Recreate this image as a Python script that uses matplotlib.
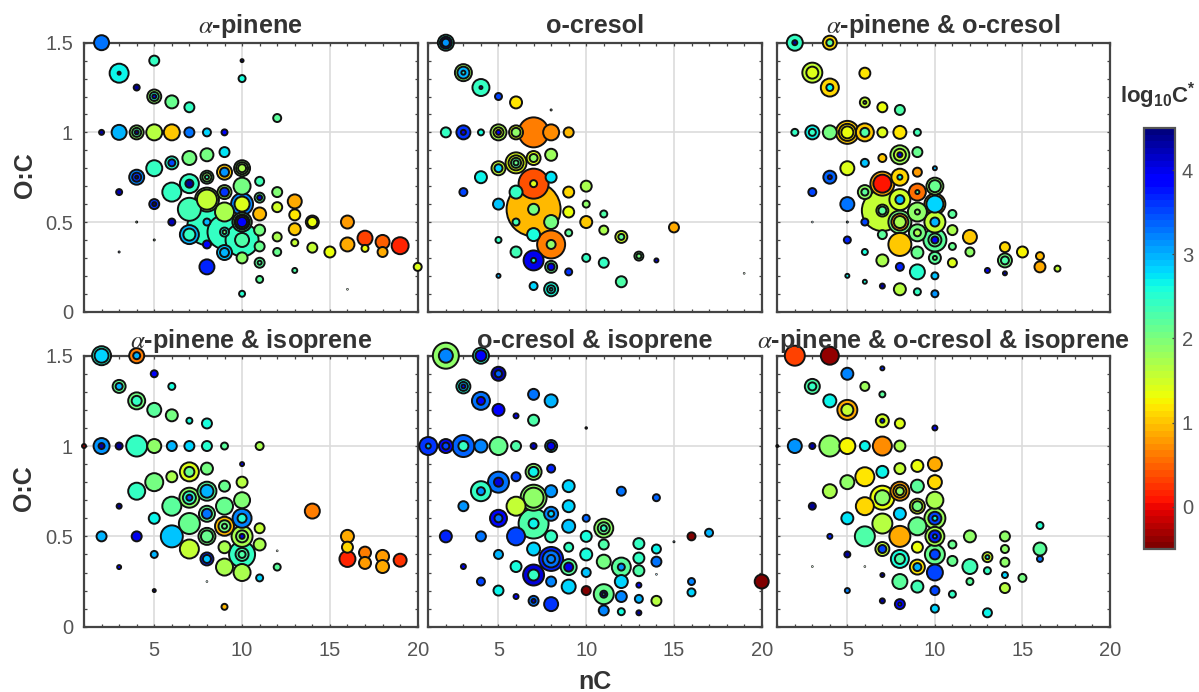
import numpy as np
import matplotlib
matplotlib.use("Agg")
import matplotlib.pyplot as plt
from matplotlib.cm import ScalarMappable
from matplotlib.colors import Normalize
from matplotlib.ticker import MultipleLocator

plt.rcParams['font.family'] = ['Liberation Sans', 'DejaVu Sans']
plt.rcParams['mathtext.fontset'] = 'custom'
plt.rcParams['mathtext.bf'] = 'Liberation Sans:bold'
plt.rcParams['mathtext.rm'] = 'Liberation Sans'

# a-pinene
ap_nc = [2, 3, 3, 4, 5, 5, 5, 5, 6, 7, 10, 10, 12, 2, 3, 4, 4, 4, 5, 6, 7, 8, 9,
         4, 4, 4, 5, 6, 6, 7, 8, 9, 3, 5, 5, 6, 7, 7, 6, 7, 8, 8, 8, 8, 8, 9, 9, 9, 9,
         10, 10, 10, 10, 10, 10, 10, 10, 9, 8, 7, 7, 8, 9, 9, 9, 10, 10, 10, 10, 10,
         8, 9, 9, 10, 8, 11, 11, 11, 11, 11, 11, 11, 11, 11, 10, 12, 12, 12, 12, 13, 13,
         13, 13, 13, 14, 14, 14, 15, 16, 16, 16, 17, 17, 18, 18, 19, 20, 3, 4, 5]
ap_oc = [1.5, 1.33, 1.33, 1.25, 1.4, 1.2, 1.2, 1.2, 1.17, 1.14, 1.4, 1.3, 1.08, 1, 1, 1, 1, 1, 1, 1, 1, 1, 1,
         .75, .75, .75, .8, .83, .83, .857, .875, .89, .667, .6, .6, .5, .714, .714, .667, .571, .625, .625, .75, .75, .75, .778, .778, .667, .667,
         .8, .8, .8, .7, .6, .6, .5, .5, .556, .5, .43, .43, .48, .444, .444, .444, .4, .4, .5, .5, .5,
         .375, .33, .33, .3, .25, .727, .636, .636, .545, .455, .364, .273, .273, .18, .1, .667, .583, .417, .333, .615, .54,
         .46, .385, .23, .5, .5, .357, .333, .5, .375, .125, .41, .353, .389, .333, .368, .25, .333, .5, .4]
ap_sz = [16, 20, 4, 7, 11, 15, 10, 5, 14, 11, 4, 8, 9, 6, 16, 15, 10, 5, 17, 17, 11, 9, 7,
         16, 10, 4, 17, 14, 8, 15, 14, 11, 7, 11, 5, 8, 20, 9, 20, 24, 25, 21, 14, 10, 5, 16, 10, 15, 10,
         17, 13, 9, 18, 23, 16, 20, 14, 20, 8, 20, 13, 40, 35, 10, 5, 34, 15, 20, 16, 11,
         9, 16, 10, 12, 16, 10, 11, 6, 14, 12, 11, 11, 5, 8, 7, 11, 11, 10, 9, 15, 12,
         13, 8, 6, 14, 11, 11, 12, 14, 15, 1.5, 16, 8, 15, 11, 18, 9, 2, 2, 2]
ap_lc = [3.3, 2.7, 4.4, 4.4, 2.45, 1.9, 2.5, 3.9, 2.1, 2.45, 4.4, 2.6, 2.2, 4.3, 3.0, 1.9, 2.3, 4.4, 1.65, 1.05, 3.3, 2.8, 3.9,
         3.2, 3.6, 4.0, 2.4, 2.5, 3.5, 2.0, 2.05, 2.75, 4.2, 3.6, 4.4, 4.2, 2.4, 4.4, 2.4, 2.35, 1.9, 1.6, 2.1, 1.9, 2.4, 1.0, 3.1, 1.8, 3.6,
         1.9, 1.9, 1.7, 2.0, 3.2, 1.4, 2.1, 1.9, 1.7, 3.0, 3.0, 2.4, 2.4, 2.4, 2.6, 2.0, 2.4, 2.3, 2.1, 1.9, 3.9,
         3.9, 2.9, 3.0, 1.9, 3.7, 2.35, 2.2, 4.0, 0.95, 2.0, 2.1, 2.2, 2.3, 2.2, 2.5, 1.95, 1.5, 1.7, 2.1, 0.85, 1.2,
         1.0, 1.6, 2.3, 1.4, 1.3, 1.6, 1.35, 0.75, 0.85, 2.0, 0.35, 1.3, 0.45, 0.85, 0.2, 1.45, 3.5, 2.0, 2.0]

# o-cresol
oc_nc = [2, 2, 2, 3, 3, 3, 4, 4, 5, 6, 2, 3, 3, 4, 5, 5, 5, 6, 6, 7, 8, 9, 8,
         6, 6, 6, 6, 7, 7, 8, 5, 5, 4, 7, 7, 8, 3, 6, 9, 10, 5, 7, 7, 9, 10, 11,
         8, 6, 10, 11, 9, 12, 12, 15, 7, 8, 8, 5, 6, 7, 7, 8, 8, 9, 10, 11, 13, 13, 14,
         12, 5, 7, 8, 8, 8, 19]
oc_oc = [1.5, 1.5, 1.5, 1.333, 1.333, 1.333, 1.25, 1.25, 1.2, 1.167, 1, 1, 1, 1, 1, 1, 1, 1, 1, 1, 1, 1, 1.125,
         .83, .83, .83, .83, .857, .857, .875, .8, .8, .75, .714, .714, .75, .667, .667, .667, .7, .6, .571, .571, .556, .6, .545,
         .5, .5, .5, .455, .44, .417, .417, .47, .43, .375, .375, .4, .333, .286, .286, .25, .25, .222, .3, .273, .31, .31, .286,
         .167, .2, .143, .125, .125, .125, .214]
oc_sz = [17, 13, 9, 18, 13, 5, 18, 4, 8, 13, 11, 15, 6, 7, 17, 11, 6, 15, 10, 31, 17, 11, 2,
         22, 16, 11, 6, 15, 9, 13, 15, 9, 13, 31, 8, 12, 9, 14, 12, 12, 12, 55, 12, 12, 8, 8,
         15, 8, 13, 10, 8, 13, 7, 11, 14, 29, 10, 7, 12, 21, 6, 13, 8, 8, 9, 11, 10, 6, 5,
         12, 5, 9, 15, 9, 4, 1.5]
oc_lc = [2.6, 4.3, 3.1, 1.8, 3.0, 2.7, 2.45, 4.0, 3.5, 1.15, 2.4, 3.6, 4.0, 2.6, 1.7, 1.5, 3.9, 1.4, 1.85, 0.65, 0.7, 0.95, 2.0,
         1.45, 1.5, 2.2, 2.1, 1.4, 1.9, 1.8, 1.6, 2.8, 2.7, 0.4, 1.4, 2.75, 3.5, 2.4, 1.1, 1.7, 2.9, 0.95, 2.0, 1.35, 1.9, 2.3,
         2.05, 2.35, 1.0, 1.75, 2.2, 1.5, 2.2, 0.85, 2.6, 0.65, 1.85, 2.4, 2.35, 4.0, 2.5, 2.1, 4.0, 3.6, 2.4, 2.4, 2.1, 2.0, 4.0,
         2.3, 3.0, 2.8, 2.6, 2.7, 2.4, 2.0]

# a-pinene & o-cresol
pc_nc = [2, 2, 4, 4, 3, 3, 4, 4, 6, 6, 6, 7, 8, 2, 3, 3, 4, 5, 5, 5, 6, 6, 7, 8, 9,
         8, 8, 8, 9, 7, 6, 5, 4, 4, 3, 5, 7, 7, 8, 8, 9, 10, 10, 10, 6, 6, 7, 7, 7,
         8, 8, 9, 9, 10, 10, 11, 9, 9, 8, 8, 8, 10, 10, 9, 9, 11, 10, 10, 10, 7, 6,
         8, 9, 11, 12, 12, 5, 6, 7, 8, 9, 10, 10, 11, 5, 6, 7, 8, 9, 10, 10,
         14, 14, 14, 15, 16, 16, 17, 13, 14, 3, 5]
pc_oc = [1.5, 1.5, 1.5, 1.5, 1.333, 1.333, 1.25, 1.25, 1.33, 1.167, 1.167, 1.14, 1.125, 1, 1, 1, 1, 1, 1, 1, 1, 1, 1, 1, 1,
         .875, .875, .875, .89, .857, .83, .8, .75, .75, .667, .6, .714, .714, .75, .75, .778, .8, .7, .7, .667, .667, .564, .564, .564,
         .625, .625, .667, .667, .6, .6, .545, .556, .556, .5, .5, .5, .5, .5, .44, .44, .455, .4, .4, .4, .43, .5,
         .375, .33, .364, .417, .333, .4, .333, .286, .25, .222, .3, .3, .273, .2, .167, .143, .125, .111, .2, .1,
         .36, .286, .286, .333, .31, .25, .24, .23, .214, .5, .5]
pc_sz = [17, 6, 15, 8, 21, 13, 19, 8, 12, 11, 4, 11, 11, 8, 15, 8, 15, 24, 18, 13, 19, 10, 11, 14, 8,
         20, 13, 6, 11, 9, 9, 15, 14, 5, 9, 15, 25, 19, 18, 6, 10, 5, 18, 13, 15, 8, 42, 13, 9,
         22, 10, 18, 5, 22, 18, 9, 20, 6, 24, 18, 13, 22, 10, 18, 8, 11, 24, 14, 8, 10, 8,
         24, 13, 8, 15, 10, 8, 7, 13, 9, 16, 13, 5, 10, 5, 5, 6, 13, 8, 8, 8,
         11, 15, 9, 12, 9, 12, 7, 6, 5, 1.5, 2]
pc_lc = [2.4, 4.4, 1.1, 2.2, 1.6, 1.4, 1.1, 2.7, 1.15, 1.6, 2.0, 1.3, 2.3, 2.4, 2.7, 2.4, 2.0, 1.0, 1.2, 1.3, 1.0, 2.3, 1.4, 1.2, 2.35,
         1.8, 1.6, 4.0, 2.1, 1.0, 2.9, 1.45, 3.4, 4.0, 3.5, 3.25, 0.9, 0.05, 1.1, 2.7, 0.8, 3.0, 1.9, 2.1, 1.9, 2.2, 1.6, 1.9, 2.2,
         1.5, 3.0, 0.55, 2.3, 0.95, 2.85, 2.2, 1.85, 1.9, 2.0, 0.7, 1.75, 1.55, 3.0, 2.0, 1.7, 1.7, 2.2, 2.1, 3.8, 2.2, 3.5,
         1.05, 2.1, 2.1, 1.0, 1.85, 3.7, 2.6, 1.75, 3.7, 2.5, 2.2, 2.0, 1.45, 2.7, 2.6, 4.3, 1.65, 2.45, 2.9, 3.1,
         1.1, 2.0, 2.3, 1.25, 0.95, 0.85, 1.55, 3.8, 4.3, 3.0, 3.0]

# a-pinene & isoprene
pi_nc = [2, 2, 4, 4, 5, 6, 3, 3, 4, 4, 5, 6, 7, 8, 1, 2, 2, 3, 4, 5, 6, 7, 8, 9, 11, 10,
         4, 5, 6, 7, 7, 8, 3, 5, 6, 7, 7, 7, 8, 8, 8, 8, 9, 9, 10, 10, 10, 10, 9, 9, 9, 7, 6,
         8, 8, 10, 10, 10, 11, 11, 7, 9, 8, 8, 10, 10, 10, 9, 10, 11, 12, 5, 3, 5, 2, 4, 9,
         14, 16, 16, 16, 17, 17, 18, 18, 19, 12, 8]
pi_oc = [1.5, 1.5, 1.5, 1.5, 1.4, 1.33, 1.33, 1.33, 1.25, 1.25, 1.2, 1.17, 1.14, 1.125, 1, 1, 1, 1, 1, 1, 1, 1, 1, 1, 1, .9,
         .75, .8, .83, .857, .857, .875, .667, .6, .667, .714, .714, .714, .75, .75, .625, .625, .778, .667, .8, .7, .6, .6, .556, .556, .556, .571, .5,
         .5, .5, .5, .5, .5, .545, .455, .43, .44, .375, .375, .4, .4, .4, .33, .3, .27, .33, .4, .33, .2, .5, .5, .11,
         .64, .5, .44, .375, .41, .353, .389, .333, .368, .42, .25]
pi_sz = [20, 15, 16, 8, 8, 8, 14, 8, 18, 11, 15, 13, 7, 11, 5, 17, 7, 8, 22, 15, 11, 11, 11, 8, 9, 5,
         18, 19, 12, 20, 11, 13, 6, 12, 20, 21, 14, 7, 20, 14, 17, 11, 12, 18, 12, 17, 20, 10, 20, 13, 6, 22, 23,
         18, 13, 22, 13, 6, 11, 13, 20, 13, 14, 9, 27, 14, 8, 18, 18, 8, 8, 8, 5, 4, 11, 11, 7,
         16, 14, 12, 17, 13, 13, 14, 14, 14, 1.5, 1.5]
pi_lc = [2.5, 2.85, 0.6, 3.0, 3.9, 2.6, 2.1, 3.0, 2.0, 2.4, 2.2, 2.0, 2.6, 2.6, -0.4, 3.1, 4.3, 4.4, 2.4, 1.9, 3.0, 2.8, 2.5, 2.2, 1.75, 4.0,
         2.4, 2.05, 1.7, 1.4, 2.1, 2.0, 4.4, 2.7, 2.2, 1.9, 2.4, 3.5, 2.2, 3.0, 2.1, 3.3, 2.1, 2.1, 1.65, 1.95, 3.2, 2.5, 0.95, 2.0, 2.1, 2.15, 2.9,
         2.0, 2.1, 1.75, 1.9, 4.0, 1.6, 1.7, 1.55, 1.7, 3.7, 2.9, 2.4, 2.3, 2.3, 1.75, 1.75, 2.8, 2.2, 3.0, 3.8, 4.4, 3.0, 4.0, 0.95,
         0.6, 0.85, 1.1, 0.2, 0.65, 0.8, 0.8, 0.85, 0.25, 2.0, 2.5]

# o-cresol & isoprene
ci_nc = [2, 2, 4, 4, 5, 5, 3, 3, 3, 4, 4, 5, 6, 7, 8, 7, 10, 1, 1, 2, 2, 3, 3, 4, 5, 6, 7, 8, 8,
         7, 7, 8, 6, 5, 5, 4, 4, 8, 9, 7, 7, 6, 3, 9, 8, 8, 5, 5, 10, 7, 7, 9, 11, 11, 11,
         6, 8, 10, 2, 4, 12, 14, 16, 17, 11, 13, 14, 15, 7, 5, 9, 10, 8, 8, 8, 9, 9, 11, 12, 12, 13,
         14, 13, 6, 3, 10, 7, 7, 8, 12, 4, 9, 10, 11, 11, 11, 13, 16, 16, 20, 5, 6, 7, 7, 8, 12, 13, 14, 11, 12, 13, 14]
ci_oc = [1.5, 1.5, 1.5, 1.5, 1.4, 1.4, 1.33, 1.33, 1.33, 1.25, 1.25, 1.2, 1.167, 1.286, 1.25, 1.143, 1.1, 1, 1, 1, 1, 1, 1, 1, 1, 1, 1, 1, 1,
         .857, .857, .875, .83, .8, .8, .75, .75, .75, .778, .714, .714, .667, .667, .667, .625, .625, .6, .6, .6, .571, .571, .556, .545, .545, .545,
         .5, .5, .5, .5, .5, .75, .714, .5, .52, .455, .46, .43, .47, .43, .4, .44, .4, .375, .375, .375, .33, .33, .36, .33, .33, .38,
         .36, .31, .333, .333, .3, .286, .286, .25, .25, .25, .222, .2, .18, .18, .18, .23, .25, .19, .25, .2, .167, .143, .143, .125, .167, .154, .143, .09, .083, .077, .29]
ci_sz = [27, 15, 17, 12, 15, 8, 15, 10, 5, 19, 9, 13, 6, 12, 14, 12, 2.5, 19, 6, 15, 8, 23, 11, 14, 19, 11, 7, 13, 9,
         17, 11, 9, 10, 22, 10, 21, 9, 13, 13, 27, 21, 20, 11, 13, 15, 7, 18, 9, 8, 31, 11, 14, 20, 13, 7,
         19, 13, 12, 13, 11, 10, 8, 9, 9, 11, 12, 10, 2, 14, 10, 10, 13, 25, 18, 9, 17, 10, 15, 20, 8, 12,
         11, 12, 12, 6, 10, 22, 12, 11, 14, 9, 15, 10, 21, 8, 4, 6, 8, 9, 15, 11, 6, 11, 5, 15, 12, 9, 11, 11, 8, 6, 1]
ci_lc = [1.85, 3.2, 2.5, 3.9, 4.2, 3.4, 2.6, 3.0, 3.9, 3.3, 3.9, 3.9, 4.0, 3.3, 3.0, 2.25, 3.8, 3.6, 3.0, 3.8, 3.5, 3.4, 2.4, 3.2, 2.1, 2.3, 4.2, 2.7, 4.0,
         1.9, 2.7, 3.7, 3.5, 3.3, 4.1, 2.4, 3.1, 3.1, 2.8, 1.9, 1.9, 1.55, 3.1, 2.85, 3.2, 2.8, 3.8, 3.3, 3.4, 2.25, 2.65, 2.9, 1.85, 2.1, 2.4,
         3.5, 2.4, 2.6, 3.7, 3.3, 3.3, 3.4, -0.45, 3.0, 2.3, 2.4, 2.7, 3.0, 2.8, 3.0, 2.45, 2.6, 3.7, 3.3, 3.2, 2.2, 4.0, 2.0, 2.2, 3.1, 2.4,
         3.3, 2.3, 2.6, 4.0, 2.9, 4.1, 2.4, 3.2, 2.8, 3.5, 2.8, -0.45, 2.15, 4.0, 2.4, 3.9, 3.2, 2.85, -0.45, 2.7, 3.9, 3.3, 4.0, 3.6, 3.2, 3.0, 1.65, 3.2, 2.6, 4.3, 3.0]

# a-pinene & o-cresol & isoprene
pci_nc = [2, 4, 5, 7, 6, 3, 3, 7, 4, 5, 5, 7, 7, 8, 10, 1, 2, 3, 4, 5, 6, 7, 8,
          10, 9, 8, 7, 6, 5, 4, 10, 9, 8, 8, 8, 7, 7, 10, 6, 3, 9, 9, 8, 5, 10, 10, 10, 7, 9, 8, 6, 4,
          10, 10, 10, 12, 14, 11, 9, 14, 7, 7, 5, 10, 10, 8, 8, 13, 13, 11, 14, 16, 16, 16, 12, 9, 9, 13, 10, 14, 15, 7, 3, 6,
          8, 12, 9, 14, 5, 10, 11, 7, 8, 8, 10, 13]
pci_oc = [1.5, 1.5, 1.4, 1.43, 1.33, 1.33, 1.33, 1.286, 1.25, 1.2, 1.2, 1.14, 1.14, 1.125, 1.1, 1, 1, 1, 1, 1, 1, 1, 1,
          .9, .89, .875, .857, .83, .8, .75, .8, .778, .75, .75, .75, .714, .714, .7, .667, .667, .667, .667, .625, .6, .6, .6, .6, .571, .556, .5, .5, .5,
          .5, .5, .5, .5, .5, .455, .44, .43, .43, .43, .4, .4, .4, .375, .375, .385, .385, .364, .357, .43, .56, .375, .333, .33, .33, .31, .3, .286, .27, .286, .333, .333,
          .25, .25, .222, .214, .2, .2, .18, .143, .125, .125, .1, .077]
pci_sz = [21, 19, 13, 5, 10, 16, 9, 7, 14, 21, 13, 14, 5, 11, 6, 3, 15, 7, 22, 17, 11, 20, 12,
          15, 13, 12, 13, 20, 15, 15, 15, 14, 20, 14, 9, 25, 16, 18, 19, 8, 16, 11, 13, 13, 22, 14, 6, 21, 19, 22, 21, 6,
          20, 13, 5, 13, 11, 9, 12, 9, 15, 9, 7, 21, 11, 19, 11, 11, 5, 11, 10, 14, 8, 7, 16, 16, 9, 8, 17, 7, 9, 5, 1.5, 1.5,
          16, 8, 13, 11, 6, 10, 8, 6, 11, 4, 9, 10]
pci_lc = [0.35, -0.4, 3.2, 3.7, 1.8, 2.3, 2.4, 2.2, 2.7, 0.9, 1.6, 1.5, 3.6, 1.4, 4.0, 4.0, 3.1, 4.3, 1.85, 1.25, 2.7, 0.7, 1.7,
          0.85, 1.3, 1.55, 2.7, 1.15, 1.9, 1.75, 1.1, 2.2, 0.75, 1.1, 1.9, 1.3, 1.85, 1.75, 1.1, 4.4, 1.4, 2.0, 2.8, 2.75, 1.8, 3.5, 2.6, 1.65, 2.1, 0.9, 2.3, 3.7,
          1.75, 3.7, 3.0, 1.9, 1.9, 2.1, 1.35, 1.9, 1.6, 3.5, 4.3, 2.1, 3.5, 2.6, 2.3, 1.5, 2.6, 2.1, 1.9, 2.2, 2.5, 3.3, 2.35, 1.2, 3.0, 2.4, 3.5, 2.8, 2.0, 4.4, 2.0, 2.0,
          2.2, 2.2, 2.35, 1.65, 3.2, 3.5, 2.4, 4.3, 3.8, 2.7, 2.8, 2.7]

titles = [r"$\alpha$-pinene", "o-cresol", r"$\alpha$-pinene & o-cresol",
          r"$\alpha$-pinene & isoprene", "o-cresol & isoprene",
          r"$\alpha$-pinene & o-cresol & isoprene"]
panels = [(ap_nc, ap_oc, ap_sz, ap_lc), (oc_nc, oc_oc, oc_sz, oc_lc), (pc_nc, pc_oc, pc_sz, pc_lc),
          (pi_nc, pi_oc, pi_sz, pi_lc), (ci_nc, ci_oc, ci_sz, ci_lc), (pci_nc, pci_oc, pci_sz, pci_lc)]

W, H = 1199, 692
GREY = "#555555"
cmap = plt.get_cmap("jet_r", 64)
norm = Normalize(-0.5, 4.5)


def px_axes(fig, left, top, right, bottom):
    return fig.add_axes([left / W, 1 - bottom / H, (right - left) / W, (bottom - top) / H])


def draw_panel(ax, nc, oc, sz, lc):
    nc, oc, sz, lc = map(np.asarray, (nc, oc, sz, lc))
    order = np.argsort(-sz, kind="stable")
    area = (np.maximum(sz[order] - 1, 0.6) * 0.72) ** 2
    ax.scatter(nc[order], oc[order], s=area, c=lc[order], cmap=cmap, norm=norm,
               edgecolors="#111111", linewidths=1.4, clip_on=False, zorder=3)
    ax.set_xlim(1, 20)
    ax.set_ylim(0, 1.5)
    ax.xaxis.set_major_locator(MultipleLocator(5))
    ax.xaxis.set_minor_locator(MultipleLocator(1))
    ax.yaxis.set_major_locator(MultipleLocator(0.5))
    ax.yaxis.set_minor_locator(MultipleLocator(0.1))
    ax.yaxis.set_major_formatter(lambda v, pos: f"{v:g}")
    ax.grid(True, which="major", color="#dcdcdc", lw=1.2)
    ax.set_axisbelow(True)
    ax.tick_params(which="both", direction="in", top=True, right=True, color="#444444",
                   labelcolor=GREY, labelsize=14.5, length=2.5, width=0.9)
    ax.tick_params(axis="x", pad=10)
    ax.tick_params(axis="y", pad=8)
    for s in ax.spines.values():
        s.set_linewidth(1.6)
        s.set_color("#444444")


fig = plt.figure(figsize=(W / 100, H / 100), dpi=100)
cols = [(84, 417.7), (428.3, 761.7), (777.3, 1110)]
rows = [(42.7, 311.7), (355.7, 626.7)]
for i in range(6):
    left, right = cols[i % 3]
    top, bottom = rows[i // 3]
    ax = px_axes(fig, left, top, right, bottom)
    draw_panel(ax, *panels[i])
    ax.set_title(titles[i], fontsize=18.2, fontweight="bold", color="#333333",
                 math_fontfamily="stix", pad=7 if i < 3 else 5.5)
    if i % 3:
        ax.tick_params(labelleft=False)
    if i < 3:
        ax.tick_params(labelbottom=False)

fig.text(25 / W, 1 - 175 / H, "O:C", rotation=90, ha="center", va="center",
         fontsize=18, fontweight="bold", color="#333333")
fig.text(24 / W, 1 - 488 / H, "O:C", rotation=90, ha="center", va="center",
         fontsize=18, fontweight="bold", color="#333333")
fig.text(595 / W, 1 - 682 / H, "nC", ha="center", va="center",
         fontsize=18, fontweight="bold", color="#333333")

cax = px_axes(fig, 1144, 128, 1175, 549)
cb = fig.colorbar(ScalarMappable(norm=norm, cmap=cmap), cax=cax)
cb.set_ticks([0, 1, 2, 3, 4])
cb.ax.tick_params(direction="in", labelcolor=GREY, labelsize=14.5, color="#444444",
                  length=2.5, width=0.9, pad=5)
cb.outline.set_linewidth(1.6)
cb.outline.set_edgecolor("#555555")
fig.text(1158 / W, 1 - 96 / H, r"$\mathbf{log_{10}C^{*}}$", ha="center", va="center",
         fontsize=16, color="#333333")

fig.savefig("out.png", dpi=100)
